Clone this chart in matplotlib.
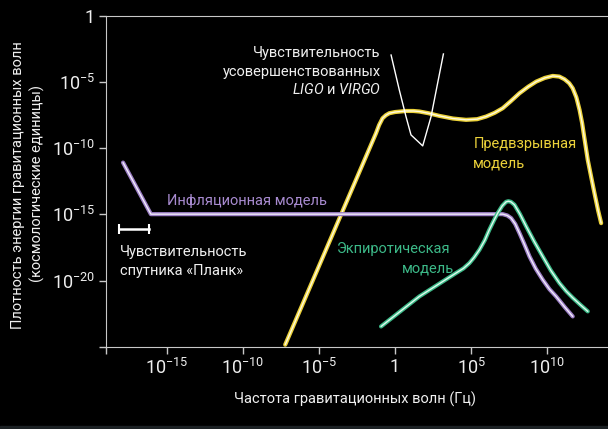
import matplotlib.pyplot as plt
import numpy as np

plt.rcParams['font.family'] = ['Roboto', 'DejaVu Sans']
plt.rcParams['mathtext.fontset'] = 'custom'
plt.rcParams['mathtext.rm'] = 'Roboto'
plt.rcParams['mathtext.it'] = 'Roboto:italic'

# curves, as log10(frequency) / log10(energy density)
pre_lx = [-7.22, -1.25, -1.05, -0.82, -0.60, -0.375, 0.0, 0.28, 0.70, 1.20,
          1.60, 2.20, 2.91, 3.80, 4.67, 5.40, 5.99, 6.55, 7.08, 7.60, 8.18,
          8.75, 9.28, 9.85, 10.37, 10.80, 11.14, 11.45, 11.68, 11.92, 12.13,
          12.30, 12.45, 12.67, 12.90, 13.11, 13.35, 13.55]
pre_ly = [-24.85, -8.86, -8.25, -7.73, -7.50, -7.35, -7.26, -7.23, -7.18, -7.18,
          -7.22, -7.35, -7.55, -7.75, -7.85, -7.80, -7.60, -7.32, -6.97, -6.45, -5.84,
          -5.35, -4.96, -4.68, -4.53, -4.58, -4.78, -5.08, -5.46, -6.15, -7.10,
          -8.10, -9.24, -10.88, -12.20, -13.39, -14.70, -15.66]

infl_lx = [-17.88, -16.05, 7.08, 7.38, 7.63, 7.90, 8.18, 8.50, 8.84, 9.25,
           9.71, 10.15, 10.59, 11.15, 11.68]
infl_ly = [-11.08, -14.98, -14.98, -15.08, -15.28, -15.72, -16.41, -17.25, -18.18,
           -19.10, -19.94, -20.65, -21.20, -22.00, -22.71]

ekp_lx = [-0.92, 1.60, 4.01, 4.50, 4.89, 5.20, 5.55, 5.90, 6.20, 6.50, 6.75,
          7.05, 7.30, 7.45, 7.62, 7.85, 8.20, 8.62, 9.15, 9.71, 10.25, 10.81,
          11.25, 11.68, 12.20, 12.67]
ekp_ly = [-23.47, -21.20, -19.43, -19.08, -18.68, -18.25, -17.67, -16.95, -16.16,
          -15.45, -14.90, -14.35, -14.05, -14.00, -14.05, -14.27, -14.95, -15.90,
          -17.05, -18.18, -19.25, -20.19, -20.80, -21.30, -21.85, -22.33]

ligo_lx = [-0.26, 0.28, 0.72, 1.05, 1.82, 2.37, 2.80, 3.18]
ligo_ly = [-2.95, -5.59, -7.6, -8.99, -9.82, -7.6, -5.08, -2.87]

planck_lx = [-18.13, -16.2]
planck_ly = [-16.13, -16.13]

xticks = [1e-19, 1e-15, 1e-10, 1e-5, 1, 1e5, 1e10]
xticklabels = ['', r'$10^{-15}$', r'$10^{-10}$', r'$10^{-5}$', '1',
               r'$10^{5}$', r'$10^{10}$']
yticks = [1e-25, 1e-20, 1e-15, 1e-10, 1e-5, 1]
yticklabels = ['', r'$10^{-20}$', r'$10^{-15}$', r'$10^{-10}$', r'$10^{-5}$', '1']

W, H = 608, 429
fig = plt.figure(figsize=(W / 100, H / 100), dpi=100, facecolor='black')
ax = fig.add_axes([106 / W, 1 - 346.7 / H, 1 - 106 / W, (346.7 - 16) / H])
ax.set_facecolor('black')
ax.set_xscale('log')
ax.set_yscale('log')
ax.set_xlim(1e-19, 1e14)
ax.set_ylim(1e-25, 1)

def glow(lx, ly, col, inner):
    x = 10.0 ** np.array(lx)
    y = 10.0 ** np.array(ly)
    ax.plot(x, y, color=col, lw=3.0, solid_capstyle='round', solid_joinstyle='round')
    ax.plot(x, y, color=inner, lw=1.0, solid_capstyle='round', solid_joinstyle='round')

glow(pre_lx, pre_ly, '#ecd23a', '#fffbe0')
glow(infl_lx, infl_ly, '#9d80c6', '#f2ecfa')
glow(ekp_lx, ekp_ly, '#3cb988', '#e2faee')

ax.plot(10.0 ** np.array(ligo_lx), 10.0 ** np.array(ligo_ly), color='white', lw=1.0)
ax.plot(10.0 ** np.array(planck_lx), 10.0 ** np.array(planck_ly), color='white',
        lw=1.8, marker='|', markersize=7, markeredgewidth=1.5)

ax.set_xticks(xticks)
ax.set_xticklabels(xticklabels)
ax.set_yticks(yticks)
ax.set_yticklabels(yticklabels)
ax.minorticks_off()
ax.tick_params(colors='#c8c8c8', labelcolor='#eeeeee', labelsize=13,
               length=5, width=1, direction='out', pad=3)
for s in ['left', 'bottom', 'top']:
    ax.spines[s].set_color('#c8c8c8')
ax.spines['right'].set_visible(False)

def txt(px, py, s, col='#f0f0f0', ha='left', **kw):
    fig.text(px / W, 1 - py / H, s, color=col, ha=ha, va='center', fontsize=10.5, **kw)

txt(380.7, 53, 'Чувствительность', ha='right')
txt(380.7, 72, 'усовершенствованных', ha='right')
txt(380.7, 90, r'$\it{LIGO}$ и $\it{VIRGO}$', ha='right')
txt(473.3, 144, 'Предвзрывная', col='#ecd23a')
txt(473.3, 163, 'модель', col='#ecd23a')
txt(166.7, 201, 'Инфляционная модель', col='#a88bd0')
txt(450.7, 249, 'Экпиротическая', col='#3cb988', ha='right')
txt(454, 268.5, 'модель', col='#3cb988', ha='right')
txt(120, 252, 'Чувствительность')
txt(120, 271, 'спутника «Планк»')

fig.text(355 / W, 1 - 399 / H, 'Частота гравитационных волн (Гц)', color='#f0f0f0',
         ha='center', va='center', fontsize=10.5)
fig.text(18.5 / W, 1 - 185 / H, 'Плотность энергии гравитационных волн', color='#f0f0f0',
         ha='center', va='center', rotation=90, fontsize=10.5)
fig.text(37.5 / W, 1 - 184 / H, '(космологические единицы)', color='#f0f0f0',
         ha='center', va='center', rotation=90, fontsize=10.5)

# thin slate strip at the very bottom
fig.patches.append(plt.Rectangle((0, 0), 1, 3.3 / H, transform=fig.transFigure,
                                 color='#1c2124', zorder=0))

plt.savefig('out.png', dpi=100, facecolor='black')
